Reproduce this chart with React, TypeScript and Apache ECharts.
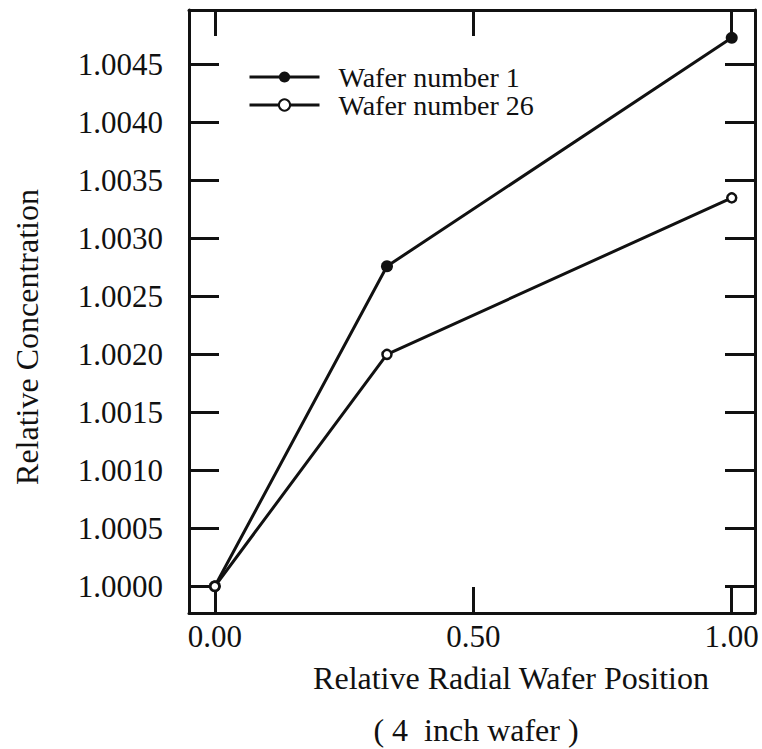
import React, { useEffect, useRef } from "react";
import * as echarts from "echarts";

const FONT = "Liberation Serif";
const seriesNames = ["Wafer number 1", "Wafer number 26"];
const xPositions = [0, 0.333, 1.0];
const wafer1 = [1.0, 1.00276, 1.00473];
const wafer26 = [1.0, 1.002, 1.00335];
const xTicks = [0, 0.5, 1.0];
const yTicks = [1.0, 1.0005, 1.001, 1.0015, 1.002, 1.0025, 1.003, 1.0035, 1.004, 1.0045];
const xTitle = "Relative Radial Wafer Position";
const xSubtitle = "( 4  inch wafer )";
const yTitle = "Relative Concentration";

const FS = 31;
const NAME_FS = 32;
const INK = "#111";

const css = "#chart-host svg text { font-family: 'Liberation Serif', 'Times New Roman', serif !important; }";

export default function App() {
  const ref = useRef<HTMLDivElement>(null);
  useEffect(() => {
    if (!ref.current) return;
    const chart = echarts.init(ref.current, null, { renderer: "svg" });
    const axisLine = { show: true, onZero: false, lineStyle: { color: INK, width: 3 } };
    const xBase = {
      type: "value",
      min: -0.05,
      max: 1.045,
      splitLine: { show: false },
      axisLine,
    };
    const yBase = {
      type: "value",
      min: 0.99977,
      max: 1.00497,
      splitLine: { show: false },
      axisLine,
    };
    chart.setOption({
      animation: false,
      backgroundColor: "#fff",
      grid: { left: 189, right: 7, top: 10, bottom: 136, containLabel: false },
      legend: {
        orient: "vertical",
        left: 248,
        top: 63,
        padding: 0,
        itemWidth: 70,
        itemHeight: 14,
        itemGap: 0,
        data: [
          {
            name: seriesNames[0],
            itemStyle: { color: INK, borderColor: INK, borderWidth: 0 },
            lineStyle: { color: INK, width: 3 },
          },
          {
            name: seriesNames[1],
            itemStyle: { color: "#fff", borderColor: INK, borderWidth: 2 },
            lineStyle: { color: INK, width: 3 },
          },
        ],
        textStyle: {
          fontFamily: FONT,
          fontSize: 28,
          color: INK,
          padding: [0, 0, 0, 14],
        },
      },
      xAxis: [
        {
          ...xBase,
          position: "bottom",
          axisTick: { show: true, inside: true, length: 26, customValues: xTicks, lineStyle: { color: INK, width: 3 } },
          axisLabel: {
            show: true,
            customValues: xTicks,
            margin: 8,
            fontFamily: FONT,
            fontSize: FS,
            color: INK,
            formatter: (v: number) => v.toFixed(2),
          },
        },
        {
          ...xBase,
          position: "top",
          axisTick: { show: true, inside: true, length: 26, customValues: xTicks, lineStyle: { color: INK, width: 3 } },
          axisLabel: { show: false },
        },
      ],
      yAxis: [
        {
          ...yBase,
          position: "left",
          axisTick: { show: true, inside: true, length: 30, customValues: yTicks, lineStyle: { color: INK, width: 3 } },
          axisLabel: {
            show: true,
            customValues: yTicks,
            margin: 26,
            fontFamily: FONT,
            fontSize: FS,
            color: INK,
            formatter: (v: number) => v.toFixed(4),
          },
        },
        {
          ...yBase,
          position: "right",
          axisTick: { show: true, inside: true, length: 30, customValues: yTicks, lineStyle: { color: INK, width: 3 } },
          axisLabel: { show: false },
        },
      ],
      series: [
        {
          name: seriesNames[0],
          type: "line",
          data: xPositions.map((x, i) => [x, wafer1[i]]),
          symbol: "circle",
          symbolSize: 12,
          itemStyle: { color: INK, borderColor: INK, borderWidth: 0 },
          lineStyle: { color: INK, width: 3 },
        },
        {
          name: seriesNames[1],
          type: "line",
          data: xPositions.map((x, i) => [x, wafer26[i]]),
          symbol: "circle",
          symbolSize: 9,
          itemStyle: { color: "#fff", borderColor: INK, borderWidth: 2.5 },
          lineStyle: { color: INK, width: 3 },
        },
      ],
      graphic: [
        {
          type: "text",
          x: 511,
          y: 678,
          style: { text: xTitle, fontFamily: FONT, fontSize: NAME_FS, fill: INK, align: "center", verticalAlign: "middle" },
        },
        {
          type: "text",
          x: 476,
          y: 730,
          style: { text: xSubtitle, fontFamily: FONT, fontSize: NAME_FS, fill: INK, align: "center", verticalAlign: "middle" },
        },
        {
          type: "text",
          x: 27,
          y: 337,
          rotation: Math.PI / 2,
          style: { text: yTitle, fontFamily: FONT, fontSize: NAME_FS, fill: INK, align: "center", verticalAlign: "middle" },
        },
      ],
    });
    return () => chart.dispose();
  }, []);
  return (
    <>
      <style>{css}</style>
      <div
        id="chart-host"
        ref={ref}
        style={{ width: 762, height: 749, position: "absolute", left: 0, top: 0 }}
      />
    </>
  );
}
